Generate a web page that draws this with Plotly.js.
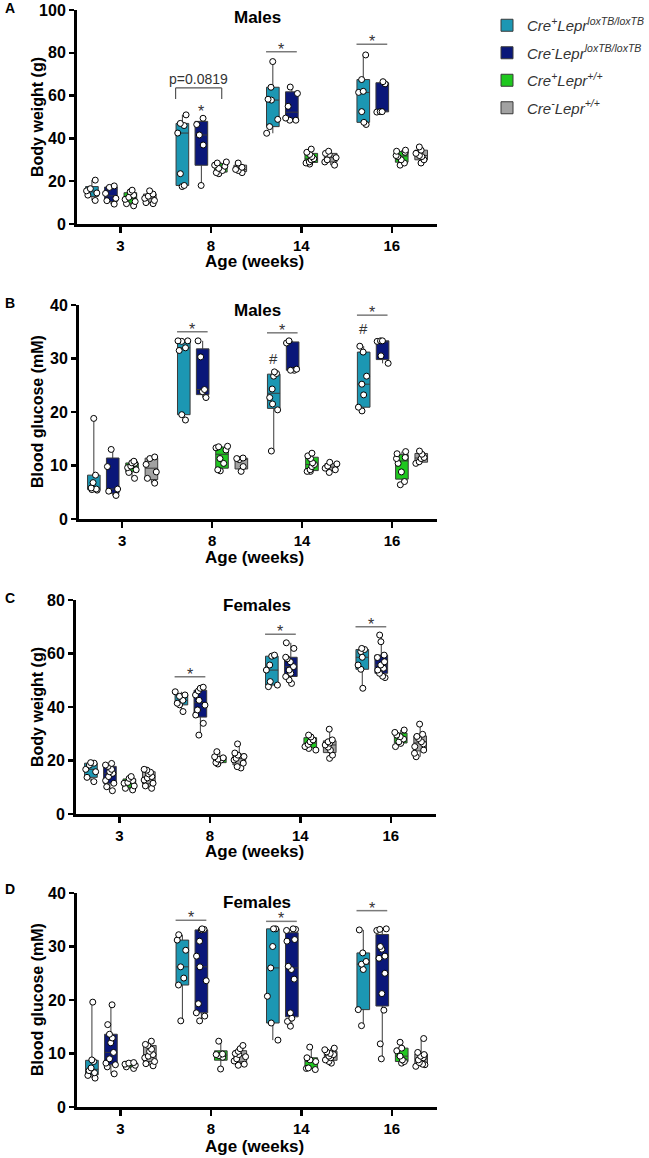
<!DOCTYPE html>
<html>
<head>
<meta charset="utf-8">
<script src="https://cdn.plot.ly/plotly-3.0.1.min.js"></script>
<style>html,body{margin:0;padding:0;background:#fff;}#chart{width:649px;height:1158px;}</style>
</head>
<body>
<div id="chart"></div>
<script>
// ---------------- DATA ----------------
const weeks = ['3', '8', '14', '16'];
const groupNames = [
  'Cre<sup>+</sup>Lepr<sup>loxTB/loxTB</sup>',
  'Cre<sup>-</sup>Lepr<sup>loxTB/loxTB</sup>',
  'Cre<sup>+</sup>Lepr<sup>+/+</sup>',
  'Cre<sup>-</sup>Lepr<sup>+/+</sup>'
];
const panelTitles = ['Males', 'Males', 'Females', 'Females'];
const yTitles = ['Body weight (g)', 'Blood glucose (mM)', 'Body weight (g)', 'Blood glucose (mM)'];
const xTitle = 'Age (weeks)';

// Panel A: male body weight (g) — one list per week (3, 8, 14, 16)
const maleBW_CrePosFlox = [[20.5, 16.5, 15.5, 14.5, 13.5, 11.0], [51.0, 47.0, 46.0, 42.5, 23.5, 18.0, 17.5], [75.9, 63.9, 58.3, 57.9, 48.9, 45.5, 42.4], [79.0, 67.5, 62.0, 61.5, 52.5, 47.5, 46.5]];
const maleBW_CreNegFlox = [[17.8, 17.1, 14.3, 12.0, 10.9, 9.3], [49.4, 46.5, 41.6, 36.9, 18.0], [64.0, 61.0, 55.0, 49.5, 48.5, 48.5], [66.5, 65.5, 52.5, 52.5, 52.3]];
const maleBW_CrePosWT = [[15.8, 15.0, 13.5, 12.5, 11.5, 10.5, 9.5, 8.5], [29.0, 28.5, 27.5, 27.0, 26.0, 25.0, 24.0, 23.5], [35.0, 33.5, 32.5, 31.5, 30.5, 30.0, 29.0, 28.5, 28.0], [34.5, 34.0, 33.5, 32.0, 31.5, 30.0, 28.5, 27.5]];
const maleBW_CreNegWT = [[15.5, 14.0, 13.0, 12.0, 11.0, 10.0, 9.5], [28.5, 26.5, 25.5, 25.0, 24.0], [34.0, 33.0, 32.5, 31.0, 30.0, 29.0, 27.5], [36.0, 34.5, 33.0, 32.0, 31.5, 30.0, 28.5]];

// Panel B: male blood glucose (mM)
const maleBG_CrePosFlox = [[18.8, 8.2, 6.8, 5.8, 5.6, 5.5, 5.4], [33.3, 33.3, 33.2, 32.0, 31.5, 19.5, 18.5], [27.5, 27.2, 26.7, 24.3, 22.7, 21.5, 20.4, 12.7], [32.3, 31.2, 26.7, 25.2, 23.2, 20.9, 20.2]];
const maleBG_CreNegFlox = [[13.0, 9.8, 5.6, 5.2, 4.4], [33.3, 30.3, 24.2, 23.8, 22.7], [33.3, 32.9, 28.0, 27.8, 27.8], [33.3, 33.3, 33.2, 30.5, 29.1]];
const maleBG_CrePosWT = [[10.8, 10.5, 10.4, 9.9, 9.6, 9.2, 8.7, 7.6], [13.6, 13.5, 13.3, 12.9, 11.3, 10.4, 9.2, 9.0], [12.3, 11.8, 11.3, 10.5, 10.2, 9.8, 9.2, 8.9, 8.9], [12.6, 12.2, 11.5, 11.3, 10.4, 8.8, 7.0, 6.4]];
const maleBG_CreNegWT = [[11.6, 11.3, 10.2, 8.8, 7.6, 6.7], [11.4, 11.3, 11.1, 9.8, 8.9], [10.6, 10.3, 9.9, 9.5, 9.2, 8.7], [12.7, 12.1, 11.5, 11.3, 10.7, 10.4]];

// Panel C: female body weight (g)
const femaleBW_CrePosFlox = [[19.2, 19.0, 18.3, 16.7, 15.8, 13.7, 12.1], [45.7, 44.5, 44.0, 42.5, 41.4, 40.8, 38.3], [59.4, 59.0, 55.7, 53.8, 49.5, 48.2, 47.6], [61.9, 61.5, 60.7, 58.6, 55.7, 54.1, 47.0]];
const femaleBW_CreNegFlox = [[18.9, 18.3, 17.8, 16.7, 15.8, 15.2, 14.0, 12.5, 11.5, 10.2, 8.7], [47.4, 47.0, 46.0, 44.5, 42.5, 40.7, 38.9, 37.0, 33.9, 29.5], [64.0, 61.9, 58.6, 58.0, 56.9, 55.1, 53.8, 52.6, 51.4, 50.1, 48.8], [66.9, 64.4, 59.4, 58.5, 56.9, 55.7, 54.5, 53.8, 52.6, 51.5, 51.0]];
const femaleBW_CrePosWT = [[14.0, 13.3, 12.5, 11.8, 11.5, 10.5, 9.6, 9.0], [23.3, 21.4, 21.0, 20.5, 20.2, 19.2, 18.7], [29.5, 28.8, 27.7, 27.0, 26.0, 25.2, 24.5, 23.9], [31.4, 30.5, 29.5, 28.9, 28.0, 27.0, 26.4, 25.2]];
const femaleBW_CreNegWT = [[16.7, 16.4, 15.6, 15.0, 14.0, 13.5, 12.7, 11.5, 10.5, 9.6], [26.2, 22.8, 22.0, 21.5, 20.8, 20.2, 19.0, 17.7, 17.2], [31.7, 27.7, 27.0, 26.5, 25.8, 25.0, 23.9, 22.0, 20.8], [33.6, 29.8, 29.0, 28.2, 27.0, 26.2, 25.2, 23.9, 22.7, 21.4]];

// Panel D: female blood glucose (mM)
const femaleBG_CrePosFlox = [[19.6, 8.8, 8.5, 7.3, 6.8, 6.4, 5.9, 5.4], [32.2, 31.2, 29.3, 26.2, 24.1, 22.8, 16.1], [33.3, 33.3, 30.0, 26.0, 20.7, 15.7, 12.5], [33.1, 28.8, 27.2, 26.7, 25.7, 18.2, 15.2]];
const femaleBG_CreNegFlox = [[19.1, 15.4, 13.6, 12.9, 12.0, 10.2, 9.0, 8.2, 7.9, 7.5, 6.2], [33.3, 33.2, 33.1, 31.0, 28.2, 26.2, 23.6, 19.3, 17.6, 17.0, 16.1], [33.3, 33.2, 33.0, 31.3, 31.0, 26.3, 25.7, 23.9, 17.6, 16.6, 16.0, 15.1], [33.3, 33.2, 33.0, 30.0, 29.5, 28.2, 27.8, 25.0, 21.2, 18.1, 11.8, 9.0]];
const femaleBG_CrePosWT = [[8.3, 8.2, 8.0, 7.8, 7.5, 7.2], [12.3, 9.9, 9.8, 9.6, 9.3, 7.1], [11.2, 9.2, 8.8, 8.5, 7.3, 7.2, 7.0], [12.1, 11.0, 10.5, 9.5, 8.8, 8.5, 8.2]];
const femaleBG_CreNegWT = [[12.3, 11.7, 11.5, 10.8, 10.4, 9.8, 9.5, 9.2, 8.5, 8.1, 7.7], [11.5, 10.9, 10.4, 10.0, 9.8, 9.4, 9.0, 8.6, 8.0, 7.8], [11.0, 10.7, 10.3, 10.0, 9.8, 9.5, 9.2, 8.8, 8.5, 8.2], [12.8, 10.2, 9.8, 9.5, 9.2, 8.8, 8.3, 8.0, 7.9, 7.6]];

// Significance marks: [week index, label]
const sigA = [[2, '*'], [3, '*']];
const sigB = [[1, '*'], [2, '*'], [3, '*']];
const sigC = [[1, '*'], [2, '*'], [3, '*']];
const sigD = [[1, '*'], [2, '*'], [3, '*']];
const sigLevelA = [80.5, 84.0];
const sigLevelB = [35.0, 34.8, 38.1];
const sigLevelC = [51.3, 67.2, 70.0];
const sigLevelD = [34.9, 34.7, 36.7];
const pBracketText = 'p=0.0819';
const hashB = [[2, 30.0], [3, 35.6]];

// ---------------- STYLE / LAYOUT ----------------
const W = 649, H = 1158;
const colors = ['#1c97b3', '#0a1779', '#1fc81f', '#a2a2a2'];
const groupOffset = [-0.315, -0.105, 0.11, 0.325];   // side-by-side slot of each genotype within a week
const boxWidth = 0.14;
const FONT = 'Liberation Sans, Arial, sans-serif';
const panels = [
  {data: [maleBW_CrePosFlox, maleBW_CreNegFlox, maleBW_CrePosWT, maleBW_CreNegWT], top: 10, bottom: 224, left: 77, right: 437, yMax: 100, dtick: 20, letter: 'A', letterY: 8, titleY: 17, xTitleY: 261},
  {data: [maleBG_CrePosFlox, maleBG_CreNegFlox, maleBG_CrePosWT, maleBG_CreNegWT], top: 305, bottom: 519, left: 79, right: 437, yMax: 40, dtick: 10, letter: 'B', letterY: 303, titleY: 311, xTitleY: 558},
  {data: [femaleBW_CrePosFlox, femaleBW_CreNegFlox, femaleBW_CrePosWT, femaleBW_CreNegWT], top: 600, bottom: 814, left: 76, right: 436, yMax: 80, dtick: 20, letter: 'C', letterY: 598, titleY: 605, xTitleY: 852},
  {data: [femaleBG_CrePosFlox, femaleBG_CreNegFlox, femaleBG_CrePosWT, femaleBG_CreNegWT], top: 893, bottom: 1107, left: 77, right: 437, yMax: 40, dtick: 10, letter: 'D', letterY: 889, titleY: 902, xTitleY: 1146}
];

function px(x) { return x / W; }
function py(y) { return 1 - y / H; }

// GraphPad-style quartiles ((n+1)p positions)
function quant(s, p) {
  const n = s.length, pos = (n + 1) * p;
  if (pos <= 1) return s[0];
  if (pos >= n) return s[n - 1];
  const lo = Math.floor(pos), f = pos - lo;
  return s[lo - 1] + f * (s[lo] - s[lo - 1]);
}

const weekIndex = weeks.map((w, i) => i);
const traces = [];
const layout = {
  width: W, height: H,
  margin: {l: 0, r: 0, t: 0, b: 0},
  paper_bgcolor: '#fff', plot_bgcolor: 'rgba(0,0,0,0)',
  boxmode: 'overlay',
  showlegend: true,
  legend: {x: px(487), y: py(9), xanchor: 'left', yanchor: 'top', bgcolor: 'rgba(0,0,0,0)',
           font: {family: FONT, size: 15, style: 'italic', color: '#333'}, tracegroupgap: 5, itemwidth: 30},
  font: {family: FONT, color: '#000'},
  annotations: [], shapes: []
};

const boldFont = (s) => ({family: FONT, size: s, weight: 'bold', color: '#000'});

panels.forEach((p, pi) => {
  const sfx = pi === 0 ? '' : String(pi + 1);
  const xa = 'x' + sfx, ya = 'y' + sfx;
  layout['xaxis' + sfx] = {
    domain: [px(p.left), px(p.right)], anchor: ya, range: [-0.48, 3.5],
    tickmode: 'array', tickvals: weekIndex, ticktext: weeks,
    showline: true, linecolor: '#000', linewidth: 3, ticks: 'outside', ticklen: 6, tickwidth: 2.5, tickcolor: '#000',
    tickfont: boldFont(15), showgrid: false, zeroline: false, fixedrange: true
  };
  layout['yaxis' + sfx] = {
    domain: [py(p.bottom), py(p.top)], anchor: xa, range: [0, p.yMax], dtick: p.dtick,
    showline: true, linecolor: '#000', linewidth: 3, ticks: 'outside', ticklen: 5, tickwidth: 2.5, tickcolor: '#000',
    tickfont: boldFont(16), showgrid: false, zeroline: false, fixedrange: true
  };

  p.data.forEach((groupData, gi) => {
    const st = groupData.map(a => a.slice().sort((u, v) => u - v));
    traces.push({
      type: 'box', name: groupNames[gi], x: weekIndex.map(i => i + groupOffset[gi]), y: groupData,
      q1: st.map(s => quant(s, 0.25)), median: st.map(s => quant(s, 0.5)), q3: st.map(s => quant(s, 0.75)),
      lowerfence: st.map(s => s[0]), upperfence: st.map(s => s[s.length - 1]),
      xaxis: xa, yaxis: ya, width: boxWidth,
      fillcolor: colors[gi], line: {color: '#3a3a3a', width: 1}, whiskerwidth: 0,
      boxpoints: 'all', pointpos: 0, jitter: 1,
      marker: {color: '#fff', size: 6, line: {color: '#000', width: 1}},
      legendgroup: 'g' + gi, showlegend: pi === 0, hoverinfo: 'skip'
    });
  });

  // panel letter, title, axis titles
  layout.annotations.push({xref: 'paper', yref: 'paper', x: px(3), y: py(p.letterY), xanchor: 'left', yanchor: 'middle',
    text: p.letter, showarrow: false, font: boldFont(14)});
  layout.annotations.push({xref: 'paper', yref: 'paper', x: px(257), y: py(p.titleY), xanchor: 'center', yanchor: 'middle',
    text: panelTitles[pi], showarrow: false, font: boldFont(17)});
  layout.annotations.push({xref: 'paper', yref: 'paper', x: px(255), y: py(p.xTitleY), xanchor: 'center', yanchor: 'middle',
    text: xTitle, showarrow: false, font: boldFont(17)});
  layout.annotations.push({xref: 'paper', yref: 'paper', x: px(37), y: py((p.top + p.bottom) / 2), xanchor: 'center', yanchor: 'middle',
    text: yTitles[pi], textangle: -90, showarrow: false, font: boldFont(16)});
});

// significance lines
const sigSets = [[sigA, sigLevelA, ''], [sigB, sigLevelB, '2'], [sigC, sigLevelC, '3'], [sigD, sigLevelD, '4']];
sigSets.forEach(([marks, levels, sfx]) => {
  marks.forEach(([k, lab], i) => {
    const yv = levels[i];
    layout.shapes.push({type: 'line', xref: 'x' + sfx, yref: 'y' + sfx, x0: k - 0.39, x1: k - 0.05, y0: yv, y1: yv,
      line: {color: '#7a7a7a', width: 1.5}});
    layout.annotations.push({xref: 'x' + sfx, yref: 'y' + sfx, x: k - 0.22, y: yv, xanchor: 'center', yanchor: 'bottom', yshift: -8,
      text: lab, showarrow: false, font: {family: FONT, size: 16, color: '#333'}});
  });
});
// p-value bracket in panel A (8 weeks)
const bx0 = 1 - 0.39, bx1 = 1 + 0.12, byTop = 63.6, byBot = 58.4;
layout.shapes.push({type: 'line', xref: 'x', yref: 'y', x0: bx0, x1: bx1, y0: byTop, y1: byTop, line: {color: '#555', width: 1.2}});
layout.shapes.push({type: 'line', xref: 'x', yref: 'y', x0: bx0, x1: bx0, y0: byBot, y1: byTop, line: {color: '#555', width: 1.2}});
layout.shapes.push({type: 'line', xref: 'x', yref: 'y', x0: bx1, x1: bx1, y0: byBot, y1: byTop, line: {color: '#555', width: 1.2}});
layout.annotations.push({xref: 'x', yref: 'y', x: (bx0 + bx1) / 2, y: byTop, xanchor: 'center', yanchor: 'bottom', yshift: -1,
  text: pBracketText, showarrow: false, font: {family: FONT, size: 14, color: '#333'}});
// star above Cre- loxTB at 8 weeks (panel A)
layout.annotations.push({xref: 'x', yref: 'y', x: 1 + groupOffset[1], y: 51.5, xanchor: 'center', yanchor: 'bottom', yshift: -8,
  text: '*', showarrow: false, font: {family: FONT, size: 16, color: '#333'}});
// # marks panel B
hashB.forEach(([k, yv]) => {
  layout.annotations.push({xref: 'x2', yref: 'y2', x: k + groupOffset[0], y: yv, xanchor: 'center', yanchor: 'middle',
    text: '#', showarrow: false, font: {family: FONT, size: 15, color: '#333'}});
});

Plotly.newPlot('chart', traces, layout, {displayModeBar: false, staticPlot: true});
</script>
</body>
</html>
